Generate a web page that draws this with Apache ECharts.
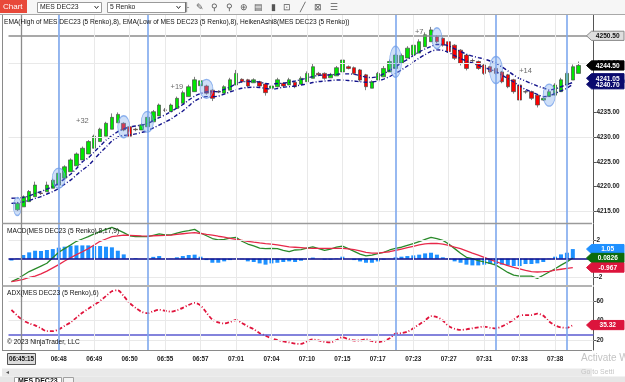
<!DOCTYPE html>
<html><head><meta charset="utf-8">
<script src="https://cdn.jsdelivr.net/npm/echarts@6/dist/echarts.min.js"></script>
<style>html,body{margin:0;padding:0;background:#fff;overflow:hidden}#c{width:625px;height:382px}</style>
</head><body><div id="c"></div>
<script>
// ---------- DATA (bar index k = 0..96; k=0 is the bar just left of the first visible candle) ----------
const tickTimes = ['06:48','06:49','06:50','06:55','06:57','07:01','07:04','07:10','07:15','07:17','07:23','07:27','07:31','07:33','07:38'];
const firstTickBar = 8, barsPerTick = 6, barSlots = 99;

const haOpen  = [null,4215.3,4215.9,4216.95,4217.95,4218.7,4218.95,4219.65,4220.3,4221.7,4223.0,4224.2,4225.4,4226.6,4227.75,4229.1,4230.2,4231.6,4232.9,4232.8,4232.1,4231.6,4231.45,4232.1,4233.1,4234.3,4235.5,4235.15,4235.8,4236.85,4238.2,4239.2,4240.4,4240.35,4239.5,4239.2,4238.9,4239.5,4240.55,4241.7,4241.6,4241.0,4241.2,4240.75,4239.9,4240.2,4240.9,4240.55,4241.1,4240.7,4241.2,4241.9,4242.9,4242.9,4242.0,4242.4,4243.2,4244.25,4244.05,4243.6,4242.6,4239.9,4241.55,4242.2,4243.2,4243.9,4245.0,4246.0,4246.6,4247.0,4248.3,4249.3,4250.3,4250.0,4249.3,4248.6,4247.6,4246.6,4245.5,4245.3,4244.6,4244.25,4243.9,4243.2,4242.6,4241.6,4240.55,4239.2,4239.2,4238.5,4237.5,4238.2,4238.5,4239.2,4240.55,4241.55,4242.9];
const haClose = [null,4216.6,4217.95,4219.0,4220.3,4218.6,4220.3,4221.3,4222.7,4224.0,4225.4,4226.6,4227.75,4229.1,4230.2,4231.6,4232.8,4234.0,4234.6,4231.45,4230.2,4231.5,4232.5,4234.0,4235.15,4236.5,4235.45,4236.5,4237.85,4239.0,4240.2,4241.6,4241.4,4238.9,4237.85,4239.15,4240.2,4241.6,4242.9,4241.2,4240.35,4241.6,4240.35,4239.0,4240.35,4241.6,4240.35,4241.6,4240.2,4241.9,4242.9,4244.25,4242.6,4241.9,4242.7,4244.05,4245.6,4243.9,4242.9,4241.55,4240.2,4241.2,4242.9,4243.9,4245.3,4246.6,4246.5,4248.0,4248.6,4249.3,4250.7,4251.7,4249.3,4248.6,4247.3,4245.95,4244.95,4243.9,4245.45,4243.9,4242.9,4243.2,4242.9,4241.2,4240.2,4239.2,4237.5,4239.15,4237.85,4236.5,4237.85,4239.2,4240.55,4241.6,4242.9,4244.25,4244.5];
const haLow   = [null,4215.0,4215.9,4216.95,4217.95,4218.3,4218.95,4219.65,4220.3,4221.7,4223.0,4224.2,4225.4,4226.6,4227.75,4229.1,4230.2,4231.6,4232.9,4231.2,4229.9,4231.2,4231.45,4232.1,4233.1,4234.3,4235.1,4235.15,4235.8,4236.85,4238.2,4239.2,4240.4,4238.6,4237.3,4238.9,4238.9,4239.5,4240.55,4241.0,4240.1,4241.0,4240.1,4238.4,4239.8,4240.2,4240.1,4240.55,4239.9,4240.7,4241.2,4241.9,4242.3,4241.6,4242.0,4242.4,4243.2,4243.7,4242.6,4241.2,4239.5,4239.9,4241.55,4242.2,4243.2,4243.9,4245.0,4246.0,4246.6,4247.0,4248.3,4249.3,4249.0,4248.3,4247.0,4245.6,4244.5,4243.5,4245.1,4243.6,4242.6,4243.0,4242.6,4240.9,4239.9,4238.8,4237.1,4238.8,4237.5,4236.0,4237.3,4238.2,4238.5,4239.2,4240.55,4241.55,4242.9];
const haHigh  = [null,4216.9,4218.2,4219.3,4221.0,4219.0,4221.0,4221.6,4223.0,4224.3,4225.7,4226.9,4228.1,4229.4,4230.5,4231.9,4233.1,4234.8,4235.0,4233.0,4232.3,4231.9,4232.8,4234.3,4235.5,4236.8,4235.9,4236.8,4238.2,4239.4,4240.6,4242.2,4241.7,4240.6,4239.7,4239.5,4240.5,4242.0,4243.6,4241.9,4241.8,4241.9,4241.4,4240.9,4240.6,4242.0,4241.1,4242.0,4241.3,4242.3,4243.3,4244.9,4243.2,4243.1,4243.0,4244.4,4246.2,4244.5,4244.3,4243.8,4242.8,4241.5,4243.2,4244.4,4245.7,4247.0,4246.9,4248.4,4249.0,4249.8,4251.2,4252.3,4250.6,4250.2,4249.5,4248.8,4247.8,4246.8,4245.9,4245.5,4244.8,4244.4,4244.1,4243.4,4242.8,4241.8,4240.7,4239.5,4239.4,4238.7,4238.1,4239.5,4240.9,4242.0,4243.3,4244.7,4245.3];

const emaHigh = [4217.63,4217.7,4217.8,4218.1,4218.6,4219.0,4219.5,4220.0,4220.65,4221.6,4222.5,4223.65,4225.0,4225.8,4227.0,4228.2,4229.4,4230.3,4231.1,4231.65,4232.05,4232.25,4232.45,4232.75,4233.35,4233.95,4234.5,4235.15,4235.9,4236.6,4237.5,4238.3,4238.8,4239.15,4239.2,4239.2,4239.65,4240.15,4240.75,4241.2,4241.25,4241.25,4241.15,4240.85,4240.75,4240.85,4240.9,4241.1,4241.35,4241.65,4241.95,4242.25,4242.5,4242.55,4242.6,4242.7,4242.8,4242.8,4242.7,4242.45,4242.15,4242.05,4242.25,4242.8,4243.5,4244.25,4245.0,4245.7,4246.5,4247.2,4247.85,4248.35,4248.75,4248.75,4248.45,4247.85,4247.35,4246.8,4246.4,4246.1,4245.8,4245.4,4244.95,4244.2,4243.4,4242.55,4241.85,4241.35,4240.85,4240.35,4239.95,4239.55,4239.75,4240.2,4240.65,4241.05,null];
const emaLow  = [4216.6,4216.7,4216.9,4217.2,4217.6,4217.95,4218.5,4219.0,4219.65,4220.5,4221.3,4222.35,4223.35,4224.25,4225.5,4226.8,4228.0,4229.2,4230.0,4230.35,4230.45,4230.65,4230.95,4231.25,4231.85,4232.45,4233.05,4233.65,4234.5,4235.3,4236.3,4237.3,4237.9,4238.2,4238.2,4238.3,4238.7,4239.15,4239.55,4239.9,4240.05,4240.1,4240.05,4239.85,4239.7,4239.85,4240.1,4240.2,4240.35,4240.55,4240.75,4241.05,4241.25,4241.35,4241.45,4241.55,4241.55,4241.45,4241.35,4241.2,4241.1,4241.15,4241.35,4241.75,4242.25,4242.9,4243.6,4244.4,4245.2,4246.0,4246.7,4247.35,4247.65,4247.55,4247.1,4246.5,4245.9,4245.4,4245.0,4244.5,4244.1,4243.7,4243.25,4242.55,4241.85,4241.15,4240.35,4239.65,4239.15,4238.65,4238.2,4238.3,4238.85,4239.35,4239.9,4240.7,null];

const macdLine = [-2.5,-2.2,-1.8,-1.4,-1.1,-0.8,-0.5,0.1,0.7,1.1,1.5,1.9,2.15,2.4,2.7,2.95,3.2,3.42,3.15,2.85,2.5,2.4,2.4,2.4,2.55,2.7,2.6,2.6,2.8,2.95,3.05,3.2,2.8,2.5,2.2,2.05,2.1,2.25,2.33,1.9,1.6,1.4,1.15,1.1,1.13,1.1,0.9,0.76,0.95,1.0,1.15,1.3,1.1,0.9,1.05,1.25,1.38,1.1,0.8,0.5,0.3,0.4,0.55,0.7,0.95,1.13,1.25,1.45,1.65,1.85,2.1,2.33,2.2,2.0,1.6,1.1,0.6,0.15,0.0,-0.2,-0.35,-0.5,-0.7,-1.1,-1.5,-1.8,-1.9,-1.9,-1.9,-2.14,-1.8,-1.45,-1.1,-0.7,-0.35,0.0826,null];
const macdAvg  = [-2.5,-2.4,-2.25,-2.05,-1.9,-1.65,-1.35,-1.0,-0.65,-0.25,0.1,0.45,0.76,1.1,1.5,1.9,2.15,2.4,2.5,2.58,2.55,2.52,2.48,2.47,2.5,2.52,2.55,2.58,2.65,2.72,2.78,2.84,2.75,2.65,2.58,2.45,2.35,2.22,2.1,2.0,1.9,1.8,1.72,1.65,1.6,1.5,1.4,1.3,1.25,1.2,1.15,1.13,1.13,1.13,1.13,1.13,1.12,1.08,0.98,0.85,0.7,0.6,0.6,0.68,0.76,0.9,1.05,1.2,1.35,1.5,1.62,1.68,1.66,1.6,1.45,1.25,1.1,0.85,0.6,0.4,0.15,-0.1,-0.33,-0.55,-0.75,-0.95,-1.1,-1.28,-1.42,-1.45,-1.42,-1.38,-1.25,-1.15,-1.05,-0.967,null];
const macdDiff = [-0.2,0.05,0.4,0.69,0.87,0.84,0.95,1.05,1.2,1.31,1.42,1.45,1.45,1.45,1.38,1.38,1.31,1.24,0.87,0.47,0.02,0.07,0.0,0.0,0.2,0.29,0.02,0.02,0.15,0.29,0.4,0.44,0.22,-0.15,-0.44,-0.44,-0.29,-0.15,-0.02,-0.07,-0.29,-0.36,-0.51,-0.65,-0.51,-0.44,-0.36,-0.29,-0.36,-0.22,-0.02,0.12,0.0,-0.1,-0.1,0.05,0.22,0.0,-0.15,-0.3,-0.44,-0.44,-0.3,-0.1,0.02,0.15,0.22,0.29,0.36,0.44,0.58,0.65,0.44,0.15,-0.05,-0.29,-0.44,-0.65,-0.73,-0.73,-0.65,-0.58,-0.58,-0.65,-0.73,-0.8,-0.8,-0.58,-0.58,-0.51,-0.36,-0.05,0.22,0.47,0.65,1.05,null];
const adx = [51,45,40,37,35,32,29,29,31,34.5,38,43,48,52,56,60,65,70,71,65,58,53,49,47.5,49.5,51,50,49,50.5,53,56,58,55.5,48,41,38,37,38.5,40.5,37.5,34,31,27,24.5,21.7,20,18.5,17.5,16.3,16,18.5,20.5,19.5,18,17.5,20,22.8,21,19.5,19.5,20.7,19,17.6,19,21.7,26.5,27,28.5,32,36,40,44.5,43.5,40,34,31.5,30.3,31,32,33,33.7,32.5,32,34,37,41,45,45.6,45.6,47,45,39,35,33,32.5,35.32,null];

const priceTicks = [4215,4220,4225,4230,4235,4240,4245,4250];
const macdTicks = [2,-2];
const adxTicks = [20,40,60];
const priceGrid = [4215,4230,4245];
const signalBars = [8,23,65,82,94];                 // blue vertical lines
const ellipseBar = [1,8,19,23,33,65,72,82,91];
const ellipsePrice = [4215.95,4221.7,4232.1,4233.1,4239.75,4245.25,4250.0,4243.6,4238.5];
const tradeText = ['+32','+19','+7','+14'];
const tradeBar = [12,28,69,87];
const tradePrice = [4233.3,4240.2,4251.3,4243.4];
const cursorPrice = 4250.50;
const lastPrice = 4244.50;

// ---------- styling ----------
const ellipseSize = [[8,18],[13,20],[12,22],[12,21],[13,19],[12,31],[10,21],[13,27],[12,22]];
const FONT = '"Liberation Sans", Arial, sans-serif';
const G = {left: 8.5, width: 585};
const cats = Array.from({length: barSlots}, (_, k) => 'b' + k);
const tickMap = {};
tickTimes.forEach((t, m) => tickMap[firstTickBar + m * barsPerTick] = t);
const tickBars = Object.keys(tickMap).map(Number);
const PMIN = 4212.63, PMAX = 4254.71;

function xAx(gi, show) {
  return {type: 'category', gridIndex: gi, data: cats, boundaryGap: true,
    axisLine: {show: false}, axisTick: {show: false}, splitLine: {show: false},
    axisLabel: show ? {show: true, interval: (i) => tickMap[i] !== undefined,
      formatter: (v, i) => tickMap[i] || '', fontSize: 6.3, fontWeight: 'bold',
      color: '#222', margin: 6, fontFamily: FONT} : {show: false}};
}
function yAx(gi, min, max, ticks, fmt) {
  return {type: 'value', gridIndex: gi, position: 'right', min, max, scale: true,
    axisLine: {show: true, onZero: false, lineStyle: {color: '#555', width: 1}},
    axisTick: {show: true, length: 3, customValues: ticks, lineStyle: {color: '#555'}},
    axisLabel: {show: true, customValues: ticks, formatter: fmt, fontSize: 6.4, fontWeight: 'bold',
      color: '#222', margin: 3, fontFamily: FONT},
    splitLine: {show: false}};
}
const gridLine = {color: '#e9e9e9', width: 1, type: 'solid'};
const blueLine = {color: '#7ea8ee', width: 1.6, type: 'solid'};
function vLines() {
  return tickBars.map(k => ({xAxis: k, lineStyle: gridLine}))
    .concat(signalBars.map(k => ({xAxis: k, lineStyle: blueLine})));
}
function mlSeries(gi, extra) {
  return {type: 'line', xAxisIndex: gi, yAxisIndex: gi, data: [], z: 1, silent: true,
    markLine: {silent: true, symbol: ['none', 'none'], label: {show: false}, animation: false,
      lineStyle: {type: 'solid'}, data: extra.concat(vLines())}};
}

const candleData = haOpen.map((o, k) => o == null ? '-' : [o, haClose[k], haLow[k], haHigh[k]]);
const dash = [4, 2, 1, 2];

const option = {
  animation: false,
  backgroundColor: '#ffffff',
  grid: [
    {left: G.left, width: G.width, top: 15, height: 208},
    {left: G.left, width: G.width, top: 224, height: 61},
    {left: G.left, width: G.width, top: 287, height: 63}
  ],
  xAxis: [xAx(0, false), xAx(1, false), xAx(2, true)],
  yAxis: [
    yAx(0, PMIN, PMAX, priceTicks, v => v.toFixed(2)),
    yAx(1, -2.868, 3.784, macdTicks, v => String(v)),
    yAx(2, 9.74, 74.36, adxTicks, v => String(v))
  ],
  series: [
    mlSeries(0, priceGrid.map(v => ({yAxis: v, lineStyle: gridLine}))
      .concat([{yAxis: cursorPrice, lineStyle: {color: '#8c8c8c', width: 1.5, type: 'solid'}}])),
    mlSeries(1, [{yAxis: 2, lineStyle: gridLine}, {yAxis: -2, lineStyle: gridLine},
      {yAxis: 0, lineStyle: {color: '#0a0a8a', width: 1.5, type: 'solid'}}]),
    mlSeries(2, adxTicks.map(v => ({yAxis: v, lineStyle: gridLine}))
      .concat([{yAxis: 25, lineStyle: {color: '#5a5ad0', width: 1.5, type: 'solid'}}])),
    {type: 'candlestick', name: 'HeikenAshi8', xAxisIndex: 0, yAxisIndex: 0, data: candleData,
      barWidth: 4, z: 3,
      itemStyle: {color: '#00e600', color0: '#ff0000', borderColor: '#4a4a4a', borderColor0: '#4a4a4a', borderWidth: 0.7}},
    {type: 'line', name: 'EMA High', xAxisIndex: 0, yAxisIndex: 0, data: emaHigh, symbol: 'none',
      smooth: 0.3, z: 4, lineStyle: {color: '#14148c', width: 1.4, type: dash}},
    {type: 'line', name: 'EMA Low', xAxisIndex: 0, yAxisIndex: 0, data: emaLow, symbol: 'none',
      smooth: 0.3, z: 4, lineStyle: {color: '#14148c', width: 1.4, type: dash}},
    {type: 'scatter', name: 'markers', xAxisIndex: 0, yAxisIndex: 0, z: 5, symbol: 'circle',
      data: ellipseBar.map((b, j) => ({value: [b, ellipsePrice[j]], symbolSize: ellipseSize[j]})),
      itemStyle: {color: 'rgba(120,165,235,0.45)', borderColor: '#74a0ea', borderWidth: 1}},
    {type: 'scatter', name: 'trades', xAxisIndex: 0, yAxisIndex: 0, z: 6, symbolSize: 0,
      data: tradeBar.map((b, j) => ({value: [b, tradePrice[j]], name: tradeText[j]})),
      label: {show: true, position: 'inside', formatter: p => p.name, fontSize: 7.5, color: '#444', fontFamily: FONT}},
    {type: 'bar', name: 'Diff', xAxisIndex: 1, yAxisIndex: 1, data: macdDiff, barWidth: 4, z: 3,
      itemStyle: {color: '#1e90ff'}},
    {type: 'line', name: 'MACD', xAxisIndex: 1, yAxisIndex: 1, data: macdLine, symbol: 'none', z: 4,
      lineStyle: {color: '#2a8a2a', width: 1.3}},
    {type: 'line', name: 'Avg', xAxisIndex: 1, yAxisIndex: 1, data: macdAvg, symbol: 'none', z: 4,
      lineStyle: {color: '#e8284a', width: 1.3}},
    {type: 'line', name: 'ADX', xAxisIndex: 2, yAxisIndex: 2, data: adx, symbol: 'none', smooth: 0.3, z: 4,
      lineStyle: {color: '#e0143c', width: 1.8, type: dash}}
  ]
};

const chart = echarts.init(document.getElementById('c'));
chart.setOption(option);

// ---------- decorations (UI chrome & value tags) ----------
function py(gi, v) { return chart.convertToPixel({gridIndex: gi}, [0, v])[1]; }
function tag(y, text, fill, tc, stroke) {
  const x0 = 586.5, x1 = 624, h = 4.6;
  return {type: 'group', z: 100, children: [
    {type: 'polygon', z: 100, shape: {points: [[x0, y], [x0 + 5, y - h], [x1, y - h], [x1, y + h], [x0 + 5, y + h]]},
      style: {fill, stroke: stroke || fill, lineWidth: 1}},
    {type: 'text', z: 101, style: {x: (x0 + 5 + x1) / 2, y: y + 0.5, text, fill: tc, font: 'bold 6.6px ' + FONT,
      textAlign: 'center', textVerticalAlign: 'middle', verticalAlign: 'middle'}}
  ]};
}
function txt(x, y, text, size, color, weight, align) {
  return {type: 'text', z: 100, style: {x, y, text, fill: color || '#111', font: (weight || 'normal') + ' ' + size + 'px ' + FONT,
    textAlign: align || 'left', textVerticalAlign: 'middle', verticalAlign: 'middle'}};
}
function rect(x, y, w, h, fill, stroke, z) {
  return {type: 'rect', z: z || 90, shape: {x, y, width: w, height: h}, style: {fill, stroke: stroke || null, lineWidth: 1}};
}
function line(x1, y1, x2, y2, stroke, w, z) {
  return {type: 'line', z: z || 95, shape: {x1, y1, x2, y2}, style: {stroke, lineWidth: w || 1}};
}

const eH = emaHigh[emaHigh.length - 2], eL = emaLow[emaLow.length - 2];
let yH = py(0, eH), yL = py(0, eL);
if (yL - yH < 6) { yH = yL - 6; }
const icons = ['╟', '✎', '⚲', '⚲', '⊕', '▤', '▮', '⊡', '╱', '⊠', '☰'];
const iconX = [186, 200, 214, 229, 244, 258, 273, 287, 302, 318, 334];

const gfx = [
  // toolbar
  rect(0, 0, 625, 14, '#f6f6f6', null, 80),
  line(0, 14.5, 625, 14.5, '#a8a8a8', 1),
  rect(0, 0, 27, 13, '#e8493a', null, 90),
  txt(3, 7, 'Chart', 8, '#ffffff'),
  rect(37.5, 2.5, 64, 10, '#ffffff', '#9a9a9a', 90),
  txt(40, 7.5, 'MES DEC23', 6.8, '#222'),
  {type: 'polyline', z: 95, shape: {points: [[94.5, 6], [96.5, 8.5], [98.5, 6]]}, style: {stroke: '#333', lineWidth: 1, fill: null}},
  rect(107.5, 2.5, 78, 10, '#ffffff', '#9a9a9a', 90),
  txt(110, 7.5, '5 Renko', 6.8, '#222'),
  {type: 'polyline', z: 95, shape: {points: [[176.5, 6], [178.5, 8.5], [180.5, 6]]}, style: {stroke: '#333', lineWidth: 1, fill: null}},
  ...icons.map((c, j) => txt(iconX[j], 7.5, c, 8.5, '#555', 'normal', 'center')),
  // panel frame
  line(2.5, 15, 2.5, 350, '#8a8a8a', 1),
  line(2, 223.5, 592, 223.5, '#9a9a9a', 1.5),
  line(2, 286, 592, 286, '#9a9a9a', 1.5),
  line(2, 350.5, 592, 350.5, '#8a8a8a', 1),
  // panel titles
  txt(4, 22.5, 'EMA(High of MES DEC23 (5 Renko),8), EMA(Low of MES DEC23 (5 Renko),8), HeikenAshi8(MES DEC23 (5 Renko))', 6.6, '#111'),
  txt(7, 231.5, 'MACD(MES DEC23 (5 Renko),8,17,9)', 6.6, '#111'),
  txt(7, 293.5, 'ADX(MES DEC23 (5 Renko),6)', 6.6, '#111'),
  txt(7, 342, '© 2023 NinjaTrader, LLC', 6.6, '#111'),
  // crosshair
  line(21.5, 15, 21.5, 350, '#8c8c8c', 1.3),
  rect(7.5, 353.5, 28, 11, '#dcdcdc', '#555', 96),
  txt(21.5, 359.2, '06:45:15', 6.3, '#111', 'bold', 'center'),
  // value tags
  tag(py(0, cursorPrice), cursorPrice.toFixed(2), '#dedede', '#111', '#8a8a8a'),
  tag(py(0, lastPrice), lastPrice.toFixed(2), '#000000', '#ffffff'),
  tag(yH, eH.toFixed(2), '#0a0a6e', '#ffffff'),
  tag(yL, eL.toFixed(2), '#0a0a6e', '#ffffff'),
  tag(py(1, macdDiff[macdDiff.length - 2]), '1.05', '#1e90ff', '#ffffff'),
  tag(py(1, macdLine[macdLine.length - 2]), '0.0826', '#0b6b0b', '#ffffff'),
  tag(py(1, macdAvg[macdAvg.length - 2]), '-0.967', '#dc143c', '#ffffff'),
  tag(py(2, adx[adx.length - 2]), adx[adx.length - 2].toFixed(2), '#dc143c', '#ffffff'),
  // bottom chrome
  rect(2, 368.5, 590, 8, '#e9e9e9', null, 80),
  txt(6, 372.5, '◂', 6, '#555'),
  rect(0, 376.5, 625, 6, '#e6e6e6', null, 80),
  rect(14.5, 377.5, 47, 6, '#ffffff', '#a0a0a0', 90),
  txt(18, 381.5, 'MES DEC23', 7, '#111', 'bold'),
  rect(63.5, 377.5, 10, 6, '#f3f3f3', '#a0a0a0', 90),
  txt(581, 358.5, 'Activate W', 10, '#c4c4c4'),
  txt(581, 372.5, 'Go to Setti', 7, '#c4c4c4')
];
chart.setOption({graphic: {elements: gfx}});
</script></body></html>
